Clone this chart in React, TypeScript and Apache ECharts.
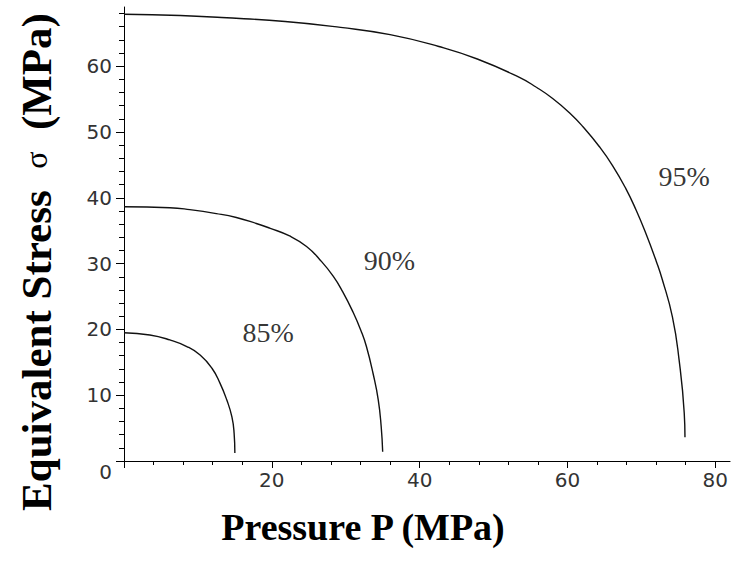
import React, { useEffect, useRef } from "react";
import * as echarts from "echarts";

// Curve 95%
const p95X = [0, 7.6, 13.2, 21.8, 29.3, 36.0, 42.6, 47.8, 53.5, 55.8, 58.0, 60.3, 62.1, 64.3, 66.1, 67.9, 69.3, 70.6, 72.0, 72.8, 74.2, 75.1, 75.8, 75.9];
const p95Y = [67.9, 67.7, 67.4, 66.8, 65.9, 64.8, 63.0, 61.1, 58.3, 56.8, 55.1, 52.9, 50.8, 47.8, 44.9, 41.4, 38.1, 34.6, 30.4, 27.7, 21.9, 15.4, 7.3, 3.6];
// Curve 90%
const p90X = [0, 6.2, 8.9, 12.5, 15.2, 17.9, 19.7, 22.4, 24.7, 26.5, 28.3, 29.6, 31.0, 32.1, 32.8, 33.7, 34.4, 34.8, 35.0];
const p90Y = [38.65, 38.5, 38.2, 37.6, 37.0, 36.1, 35.4, 34.2, 32.6, 30.6, 28.1, 25.7, 22.6, 19.7, 17.4, 13.3, 9.3, 5.2, 1.4];
// Curve 85%
const p85X = [0, 3.5, 6.2, 8.5, 10.3, 11.9, 13.0, 13.9, 14.6, 14.9, 15.0];
const p85Y = [19.5, 19.15, 18.4, 17.4, 16.1, 14.1, 11.8, 9.3, 6.7, 4.2, 1.2];

const curveNames = ["85%", "90%", "95%"];
const labelX = [19.5, 35.9, 75.8];
const labelY = [19.6, 30.5, 43.3];

const xTicks = [0, 20, 40, 60, 80];
const xLabels = [20, 40, 60, 80];
const yTicks = [0, 10, 20, 30, 40, 50, 60];

const zip = (xs: number[], ys: number[]) => xs.map((x, i) => [x, ys[i]]);

export default function App() {
  const ref = useRef<HTMLDivElement>(null);
  useEffect(() => {
    if (!ref.current) return;
    const chart = echarts.init(ref.current, null, { renderer: "svg" });
    const lineStyle = { color: "#111", width: 1.4 };
    const tickLabel = { fontFamily: "DejaVu Sans", fontSize: 20, color: "#333" };
    const curve = (xs: number[], ys: number[]) => ({
      type: "line",
      data: zip(xs, ys),
      showSymbol: false,
      smooth: 0.5,
      lineStyle,
    });
    chart.setOption({
      animation: false,
      backgroundColor: "#ffffff",
      grid: { left: 124, right: 0, top: 7, bottom: 103, containLabel: false },
      xAxis: {
        type: "value",
        min: 0,
        max: 82,
        interval: 20,
        axisLine: { show: true, onZero: false, lineStyle: { color: "#000", width: 1 } },
        axisTick: { show: true, length: 7, customValues: xTicks, lineStyle: { color: "#000" } },
        minorTick: { show: true, splitNumber: 5, length: 4, lineStyle: { color: "#000" } },
        axisLabel: { ...tickLabel, margin: 9, customValues: xLabels },
        splitLine: { show: false },
      },
      yAxis: {
        type: "value",
        min: 0,
        max: 69,
        interval: 10,
        axisLine: { show: true, onZero: false, lineStyle: { color: "#000", width: 1 } },
        axisTick: { show: true, length: 8, customValues: yTicks, lineStyle: { color: "#000" } },
        minorTick: { show: true, splitNumber: 5, length: 5, lineStyle: { color: "#000" } },
        axisLabel: {
          ...tickLabel,
          margin: 12,
          customValues: yTicks,
          formatter: (v: number) => (v === 0 ? "{z|0}" : String(v)),
          rich: { z: { ...tickLabel, padding: [22, 0, 0, 0] } },
        },
        splitLine: { show: false },
      },
      series: [
        curve(p85X, p85Y),
        curve(p90X, p90Y),
        curve(p95X, p95Y),
        {
          type: "scatter",
          symbolSize: 0,
          data: curveNames.map((n, i) => ({ name: n, value: [labelX[i], labelY[i]] })),
          label: {
            show: true,
            position: "inside",
            formatter: (p: any) => p.name,
            fontFamily: "Liberation Serif",
            fontSize: 28,
            color: "#000",
          },
        },
      ],
      graphic: [
        {
          type: "text",
          x: 363,
          y: 527,
          style: {
            text: "Pressure P (MPa)",
            fontFamily: "Liberation Serif",
            fontWeight: "bold",
            fontSize: 38,
            fill: "#000",
            align: "center",
            verticalAlign: "middle",
          },
        },
        {
          type: "text",
          x: 36,
          y: 262,
          rotation: Math.PI / 2,
          style: {
            text: "Equivalent Stress  {s|σ}  (MPa)",
            fontFamily: "Liberation Serif",
            fontWeight: "bold",
            fontSize: 43,
            fill: "#000",
            align: "center",
            verticalAlign: "middle",
            rich: { s: { fontFamily: "Liberation Serif", fontWeight: "normal", fontSize: 32, fill: "#000" } },
          },
        },
      ],
    });
    return () => chart.dispose();
  }, []);
  return (
    <div
      ref={ref}
      style={{ position: "fixed", left: 0, top: 0, width: 731, height: 564, background: "#fff" }}
    />
  );
}
